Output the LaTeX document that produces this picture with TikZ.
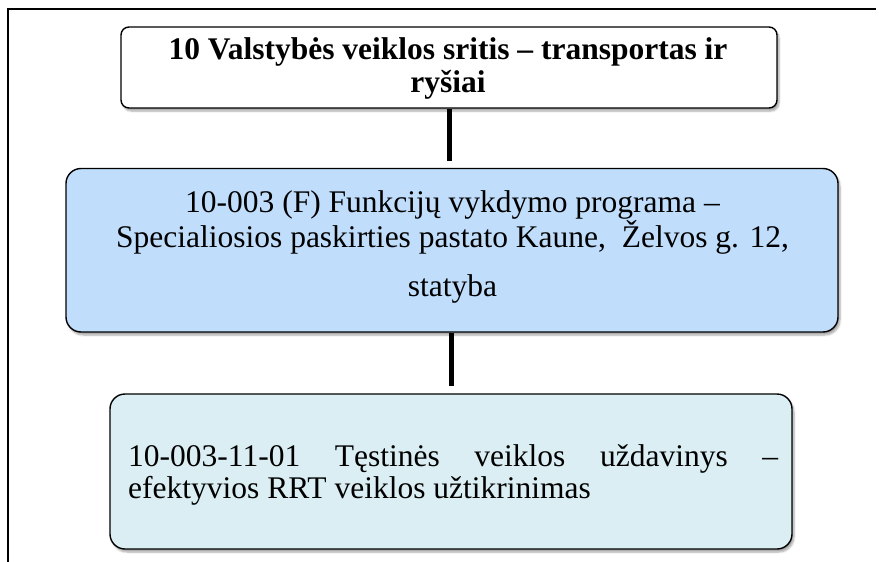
\documentclass[tikz,border=0pt]{standalone}
\usepackage{fontspec}
\setmainfont{Liberation Serif}
\usetikzlibrary{shadows.blur}
\definecolor{boxblue}{RGB}{192,222,252}
\definecolor{boxpale}{RGB}{218,238,243}
\tikzset{
  roundbox/.style={draw=black, line width=1.4pt, rounded corners=#1, inner sep=0pt,
    blur shadow={shadow xshift=2pt, shadow yshift=-3pt, shadow blur steps=6, shadow opacity=35}},
  txt/.style={inner sep=0pt, font=\fontsize{31.5}{36}\selectfont},
  link/.style={line width=5pt, draw=black},
  frameline/.style={line width=1.2pt, draw=black}
}
\begin{document}
\begin{tikzpicture}[x=1pt, y=-1pt]
\useasboundingbox (0,0) rectangle (879,562);
% outer frame (top and left sides only)
\coordinate (fa) at (8,562);
\coordinate (fb) at (8,9);
\coordinate (fc) at (876,9);
\draw[frameline] (fa) -- (fb) -- (fc);
% boxes
\node[roundbox=8pt, fill=white, minimum width=656pt, minimum height=81pt] (b1) at (449,67.5) {};
\node[roundbox=15pt, fill=boxblue, minimum width=772pt, minimum height=163.5pt] (b2) at (452,250.25) {};
\node[roundbox=15pt, fill=boxpale, minimum width=682pt, minimum height=155pt] (b3) at (451,471.5) {};
% connectors
\coordinate (c1) at (449,161);
\coordinate (c2) at (451,386);
\draw[link] (b1.south -| c1) -- (c1);
\draw[link] (b2.south -| c2) -- (c2);
% texts box 1
\node[txt, anchor=base, font=\fontsize{31.5}{36}\selectfont\bfseries] (t1a) at (448,59) {10 Valstybės veiklos sritis – transportas ir};
\node[txt, anchor=base, font=\fontsize{31.5}{36}\selectfont\bfseries] (t1b) at (448,92) {ryšiai};
% texts box 2
\node[txt, anchor=base] (t2a) at (452.5,212.5) {10-003 (F) Funkcijų vykdymo programa –};
\node[txt, anchor=base] (t2b) at (452.5,247) {Specialiosios paskirties pastato Kaune,~ Želvos g. 12,};
\node[txt, anchor=base] (t2c) at (452.5,296) {statyba};
% texts box 3
\node[txt, anchor=base west] (t3a) at (128,466) {\makebox[650pt][s]{10-003-11-01 Tęstinės veiklos uždavinys –}};
\node[txt, anchor=base west] (t3b) at (128,498) {efektyvios RRT veiklos užtikrinimas};
\end{tikzpicture}
\end{document}
